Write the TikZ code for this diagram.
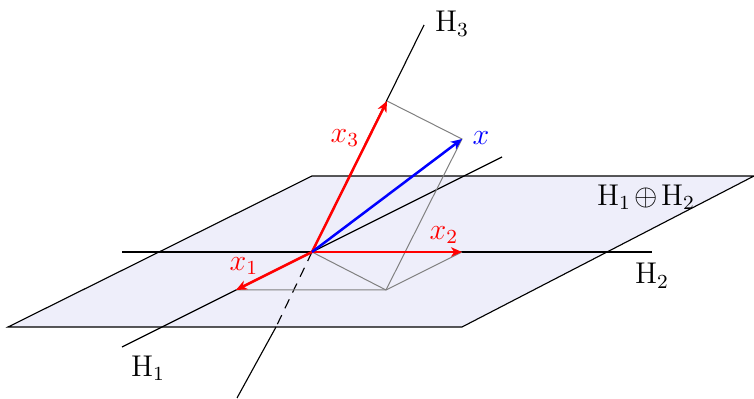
\documentclass[tikz,border=0pt]{standalone}
\usetikzlibrary{arrows.meta}
\definecolor{planefill}{RGB}{238,238,250}
\begin{document}
\begin{tikzpicture}[x=0.4pt,y=-0.4pt,
  axis/.style={black,line width=0.45pt},
  vec/.style={red,line width=1pt,-{Stealth[length=4.4pt,width=3.8pt,inset=1.3pt]}},
  bvec/.style={blue,line width=1pt,-{Stealth[length=4.4pt,width=3.8pt,inset=1.3pt]}},
  aux/.style={gray,line width=0.4pt},
  lab/.style={inner sep=0pt,font=\fontsize{11.5}{14}\selectfont}]
\useasboundingbox (0,0) rectangle (754,399);
% plane
\coordinate (P1) at (8,327);
\coordinate (P2) at (462,327);
\coordinate (P3) at (754,176);
\coordinate (P4) at (312,176);
\fill[planefill] (P1) -- (P2) -- (P3) -- (P4) -- cycle;
\draw[axis] (P1) -- (P2) -- (P3) -- (P4) -- cycle;
% points
\coordinate (O) at (312,252);
\coordinate (A1) at (236,290);
\coordinate (A2) at (462,252);
\coordinate (A3) at (387,101);
\coordinate (X) at (462,139);
\coordinate (S) at (386,290);
% axes
\coordinate (H1a) at (122,347);
\coordinate (H1b) at (502,157);
\coordinate (H2a) at (122,252);
\coordinate (H2b) at (652,252);
\coordinate (H3a) at (424,25);
\coordinate (H3e) at (276,327);
\coordinate (H3b) at (237,398);
\draw[axis] (H1a) -- (H1b);
\draw[axis] (H2a) -- (H2b);
\draw[axis] (O) -- (H3a);
\draw[axis,dash pattern=on 4pt off 3pt] (O) -- (H3e);
\draw[axis] (H3e) -- (H3b);
% auxiliary
\draw[aux] (A3) -- (X) -- (S);
\draw[aux] (A1) -- (S) -- (A2);
\draw[aux] (O) -- (S);
% vectors
\draw[vec] (O) -- (A1);
\draw[vec] (O) -- (A2);
\draw[vec] (O) -- (A3);
\draw[bvec] (O) -- (X);
% labels
\node[lab] (lH3) at (452,24) {$\mathrm{H}_3$};
\node[lab] (lH2) at (652,276) {$\mathrm{H}_2$};
\node[lab] (lH1) at (148,368) {$\mathrm{H}_1$};
\node[lab] (lH12) at (646,197) {$\mathrm{H}_1\mskip2mu{\oplus}\mskip2mu\mathrm{H}_2$};
\node[lab,red] (lx1) at (244,266) {$x_1$};
\node[lab,red] (lx2) at (444,235) {$x_2$};
\node[lab,red] (lx3) at (345,138) {$x_3$};
\node[lab,blue] (lx) at (481,138) {$x$};
\end{tikzpicture}
\end{document}
